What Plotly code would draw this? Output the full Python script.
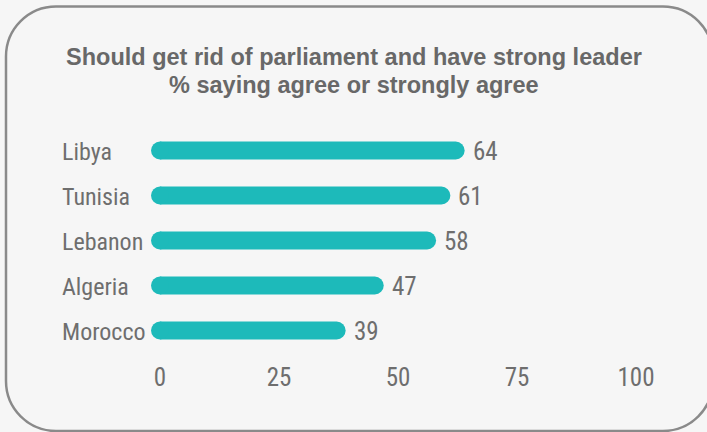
import plotly.graph_objects as go

# Survey results: % saying agree or strongly agree
countries = ["Libya", "Tunisia", "Lebanon", "Algeria", "Morocco"]
values = [64, 61, 58, 47, 39]
tick_vals = [0, 25, 50, 75, 100]
tick_text = ["0", "25", "50", "75", "100"]
title_lines = ["Should get rid of parliament and have strong leader",
               "% saying agree or strongly agree"]

W, H = 707, 432
M_L, M_R, M_T, M_B = 160, 71, 128, 79
PW, PH = W - M_L - M_R, H - M_T - M_B
ROW_PX = PH / len(countries)
BAR_FRAC = 0.4

BAR = "#1dbaba"
TXT = "#6e6e6e"
BG = "#f6f6f6"
NARROW = "Roboto Condensed, Liberation Sans Narrow, sans-serif"


def px_x(p):
    return (p - M_L) / PW


def px_y(p):
    return (H - M_B - p) / PH


fig = go.Figure()
# bars: far end rounded through barcornerradius
fig.add_trace(go.Bar(x=values, y=countries, orientation="h",
                     marker=dict(color=BAR, line=dict(width=0)),
                     width=BAR_FRAC, hoverinfo="skip"))
# round cap at the base of each bar
fig.add_trace(go.Scatter(x=[0] * len(values), y=countries, mode="markers",
                         marker=dict(color=BAR, size=ROW_PX * BAR_FRAC, symbol="circle",
                                     line=dict(width=0)),
                         hoverinfo="skip", cliponaxis=False))

# value labels just past each bar end
for c, v in zip(countries, values):
    fig.add_annotation(x=v, y=c, xref="x", yref="y", text=str(v),
                       showarrow=False, xanchor="left", xshift=6, yshift=-1,
                       font=dict(family=NARROW, size=25, color=TXT))

# country names, left aligned
for c in countries:
    fig.add_annotation(x=px_x(60), y=c, xref="paper", yref="y", text=c,
                       showarrow=False, xanchor="left", yshift=-1,
                       font=dict(family=NARROW, size=24, color=TXT))

# two-line heading
for i, line in enumerate(title_lines):
    fig.add_annotation(x=px_x(353.5), y=px_y(57 + 28 * i), xref="paper", yref="paper",
                       text="<b>" + line + "</b>", showarrow=False,
                       xanchor="center", yanchor="middle",
                       font=dict(family="Liberation Sans, Arial, sans-serif", size=23.5,
                                 color="#686868"))

# rounded frame around the chart
x0, y0, x1, y1, r = 6, 6.5, 713, 431, 50
k = 0.5523 * r


def pt(x, y):
    return f"{px_x(x):.5f},{px_y(y):.5f}"


path = (
    f"M {pt(x0 + r, y0)} L {pt(x1 - r, y0)} "
    f"C {pt(x1 - r + k, y0)} {pt(x1, y0 + r - k)} {pt(x1, y0 + r)} "
    f"L {pt(x1, y1 - r)} "
    f"C {pt(x1, y1 - r + k)} {pt(x1 - r + k, y1)} {pt(x1 - r, y1)} "
    f"L {pt(x0 + r, y1)} "
    f"C {pt(x0 + r - k, y1)} {pt(x0, y1 - r + k)} {pt(x0, y1 - r)} "
    f"L {pt(x0, y0 + r)} "
    f"C {pt(x0, y0 + r - k)} {pt(x0 + r - k, y0)} {pt(x0 + r, y0)} Z"
)
fig.add_shape(type="path", path=path, xref="paper", yref="paper",
              line=dict(color="#8a8a8a", width=2.5), layer="below")

fig.update_layout(
    width=W, height=H,
    margin=dict(l=M_L, r=M_R, t=M_T, b=M_B, pad=0),
    paper_bgcolor=BG, plot_bgcolor=BG,
    barcornerradius="50%",
    showlegend=False,
    xaxis=dict(range=[0, 100], tickvals=tick_vals, ticktext=tick_text,
               showgrid=False, zeroline=False, showline=False, ticks="",
               ticklabelstandoff=7,
               tickfont=dict(family=NARROW, size=25, color=TXT),
               fixedrange=True),
    yaxis=dict(categoryorder="array", categoryarray=countries[::-1],
               range=[-0.5, 4.5], showticklabels=False, showgrid=False,
               zeroline=False, showline=False, fixedrange=True),
)

fig.write_html("out.html")
